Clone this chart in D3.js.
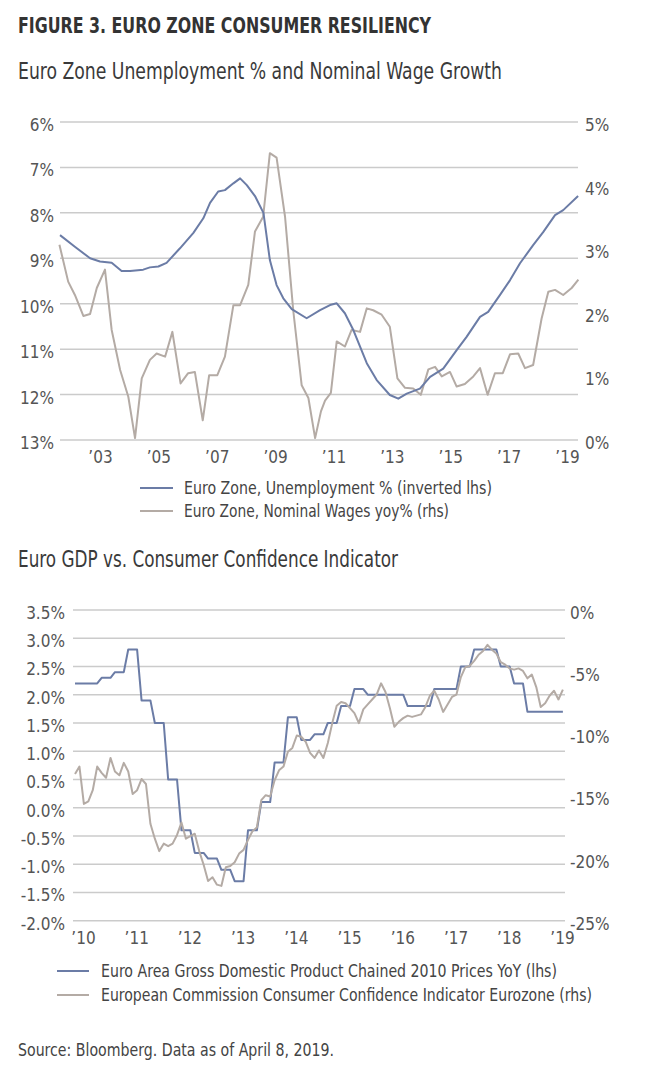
<!doctype html>
<html>
<head>
    <meta http-equiv="Content-type" content="text/html; charset=utf-8"/>
    <script src="https://cdn.jsdelivr.net/npm/d3@7"></script>
    <style>
        body { margin: 0; background: #fff; }
        svg text { font-family: "DejaVu Sans Condensed", "Liberation Sans Narrow", sans-serif; }
        .tick text { fill: #555; font-size: 17px; }
        .grid line { stroke: #cbcbcb; stroke-width: 1.5; }
    </style>
</head>
<body>
<svg width="647" height="1089"></svg>
<script>
    // ---- top chart data ----
    var unempYears = [2001.63, 2002.15, 2002.66, 2003.0, 2003.40, 2003.74, 2004.03, 2004.48, 2004.71, 2005.0, 2005.28,
        2005.74, 2006.2, 2006.54, 2006.77, 2007.05, 2007.28, 2007.57, 2007.8, 2008.03, 2008.31, 2008.6, 2008.82,
        2009.05, 2009.28, 2009.57, 2010.08, 2010.54, 2010.88, 2011.11, 2011.39, 2011.68, 2012.14, 2012.48, 2012.93,
        2013.22, 2013.51, 2013.96, 2014.31, 2014.76, 2015.22, 2015.56, 2016.02, 2016.3, 2016.7, 2017.05, 2017.39,
        2017.84, 2018.19, 2018.59, 2018.87, 2019.38];
    var unempValues = [8.49, 8.75, 9.0, 9.07, 9.1, 9.28, 9.28, 9.25, 9.2, 9.18, 9.1,
        8.78, 8.44, 8.12, 7.78, 7.53, 7.5, 7.35, 7.24, 7.39, 7.63, 8.0, 9.04,
        9.59, 9.88, 10.12, 10.32, 10.14, 10.03, 9.99, 10.21, 10.58, 11.31, 11.68, 12.01,
        12.09, 11.98, 11.87, 11.61, 11.43, 11.02, 10.73, 10.29, 10.18, 9.81, 9.48, 9.11,
        8.71, 8.42, 8.05, 7.94, 7.63];

    var wageYears = [2001.61, 2001.91, 2002.14, 2002.43, 2002.66, 2002.89, 2003.17, 2003.40, 2003.69, 2003.97,
        2004.20, 2004.43, 2004.71, 2004.94, 2005.23, 2005.48, 2005.76, 2006.02, 2006.25, 2006.52, 2006.74,
        2007.02, 2007.28, 2007.57, 2007.80, 2008.08, 2008.31, 2008.59, 2008.82, 2009.05, 2009.34, 2009.62,
        2009.91, 2010.14, 2010.37, 2010.57, 2010.71, 2010.91, 2011.11, 2011.39, 2011.62, 2011.91, 2012.14,
        2012.36, 2012.65, 2012.93, 2013.19, 2013.45, 2013.73, 2013.99, 2014.25, 2014.48, 2014.71, 2014.99,
        2015.22, 2015.50, 2015.79, 2016.02, 2016.28, 2016.53, 2016.80, 2017.05, 2017.33, 2017.56, 2017.84,
        2018.13, 2018.36, 2018.59, 2018.87, 2019.16, 2019.39];
    var wageValues = [3.07, 2.49, 2.28, 1.95, 1.98, 2.39, 2.68, 1.73, 1.1, 0.68,
        0.03, 0.97, 1.26, 1.36, 1.31, 1.70, 0.89, 1.05, 1.07, 0.31, 1.02,
        1.02, 1.31, 2.12, 2.12, 2.44, 3.28, 3.51, 4.51, 4.44, 3.51, 2.04,
        0.86, 0.66, 0.03, 0.45, 0.62, 0.74, 1.55, 1.47, 1.73, 1.70, 2.07,
        2.04, 1.97, 1.78, 0.97, 0.82, 0.81, 0.71, 1.11, 1.15, 1.0, 1.07,
        0.84, 0.88, 1.0, 1.13, 0.71, 1.05, 1.05, 1.35, 1.36, 1.13, 1.18,
        1.91, 2.33, 2.36, 2.28, 2.39, 2.52];

    var topYearTicks = [2003, 2005, 2007, 2009, 2011, 2013, 2015, 2017, 2019];
    var unempTicks = [6, 7, 8, 9, 10, 11, 12, 13];
    var wageTicks = [0, 1, 2, 3, 4, 5];

    // ---- bottom chart data ----
    // GDP yoy %, one value per quarter (held for 3 months), from Q4 2009
    var gdpQuarterly = [2.2, 2.2, 2.3, 2.4, 2.8, 1.9, 1.5, 0.5, -0.4, -0.8, -0.9, -1.1, -1.3, -0.4, 0.1, 0.8,
        1.6, 1.2, 1.3, 1.5, 1.8, 2.1, 2.0, 2.0, 2.0, 1.8, 1.8, 2.1, 2.1, 2.5, 2.8, 2.8, 2.5, 2.2, 1.7, 1.7, 1.7];
    // consumer confidence, monthly, from Nov 2009
    var confMonthly = [-13.2, -12.6, -15.6, -15.4, -14.5, -12.6, -13.1, -13.5, -11.9, -13.0, -13.3, -12.3,
        -13.0, -14.8, -14.5, -13.6, -14.0, -17.2, -18.4, -19.4, -18.8, -19.0, -18.8, -18.1,
        -17.1, -18.4, -18.2, -18.0, -19.4, -20.5, -21.8, -21.5, -22.1, -22.2, -20.7, -20.6,
        -20.3, -19.6, -19.3, -18.5, -17.8, -17.5, -15.3, -14.9, -15.0, -13.7, -12.9, -12.6,
        -11.4, -11.1, -10.1, -10.2, -10.6, -11.5, -11.9, -11.3, -11.9, -10.7, -9.1, -7.7,
        -7.4, -7.5, -7.9, -8.3, -9.1, -8.0, -7.6, -7.2, -6.8, -5.9, -6.6, -7.9,
        -9.4, -9.0, -8.7, -8.5, -8.6, -8.5, -8.4, -7.8, -6.9, -6.5, -7.2, -8.2,
        -7.6, -7.0, -6.8, -5.4, -4.6, -4.5, -4.1, -3.6, -3.3, -2.8, -3.2, -3.5,
        -4.2, -4.4, -4.7, -4.8, -4.7, -4.9, -5.5, -5.2, -6.2, -7.8, -7.5, -6.9,
        -6.5, -7.2, -6.4];
    var monthStart = 2009.85;

    var botYearTicks = [2010, 2011, 2012, 2013, 2014, 2015, 2016, 2017, 2018, 2019];
    var gdpTicks = [-2.0, -1.5, -1.0, -0.5, 0.0, 0.5, 1.0, 1.5, 2.0, 2.5, 3.0, 3.5];
    var confTicks = [-25, -20, -15, -10, -5, 0];

    var blue = "#6b7ca6", grey = "#b4aba5";

    var svg = d3.select("svg");

    function yearLabel(d) { return "\u2019" + String(d).slice(2); }

    // squeeze a label to the width it takes in the original (condensed face)
    function fit(sel, w) {
        sel.attr("textLength", w).attr("lengthAdjust", "spacingAndGlyphs");
    }

    // ---- headings ----
    svg.append("text").attr("x", 18).attr("y", 33)
        .style("font-size", "21px").style("font-weight", "bold").style("fill", "#333")
        .text("FIGURE 3. EURO ZONE CONSUMER RESILIENCY").call(fit, 413);
    svg.append("text").attr("x", 18).attr("y", 79)
        .style("font-size", "23px").style("fill", "#3a3a3a")
        .text("Euro Zone Unemployment % and Nominal Wage Growth").call(fit, 484);

    // ---- top chart ----
    var xTop = d3.scaleLinear().domain([2003, 2019]).range([100, 567]);
    var yUnemp = d3.scaleLinear().domain([6, 13]).range([122, 440]);
    var yWage = d3.scaleLinear().domain([0, 5]).range([440, 122]);

    svg.append("g").attr("class", "grid")
        .selectAll("line").data(unempTicks).enter().append("line")
        .attr("x1", 60).attr("x2", 578)
        .attr("y1", function(d) { return yUnemp(d); })
        .attr("y2", function(d) { return yUnemp(d); });

    var axL = svg.append("g").attr("transform", "translate(60,0)")
        .call(d3.axisLeft(yUnemp).tickValues(unempTicks).tickSize(0).tickPadding(6)
            .tickFormat(function(d) { return d + "%"; }));
    var axR = svg.append("g").attr("transform", "translate(578,0)")
        .call(d3.axisRight(yWage).tickValues(wageTicks).tickSize(0).tickPadding(7)
            .tickFormat(function(d) { return d + "%"; }));
    var axB = svg.append("g").attr("transform", "translate(0,440)")
        .call(d3.axisBottom(xTop).tickValues(topYearTicks).tickSize(0).tickPadding(11)
            .tickFormat(yearLabel));
    [axL, axR, axB].forEach(function(a) { a.select(".domain").remove(); });
    axL.selectAll("text").attr("dy", "0.5em");
    axR.selectAll("text").attr("dy", "0.5em");

    var wagePts = wageYears.map(function(d, i) { return [d, wageValues[i]]; });
    var unempPts = unempYears.map(function(d, i) { return [d, unempValues[i]]; });

    svg.append("path").datum(wagePts)
        .attr("fill", "none").attr("stroke", grey).attr("stroke-width", 2).attr("stroke-linejoin", "round")
        .attr("d", d3.line().x(function(d) { return xTop(d[0]); }).y(function(d) { return yWage(d[1]); }));
    svg.append("path").datum(unempPts)
        .attr("fill", "none").attr("stroke", blue).attr("stroke-width", 2).attr("stroke-linejoin", "round")
        .attr("d", d3.line().x(function(d) { return xTop(d[0]); }).y(function(d) { return yUnemp(d[1]); }));

    // top legend
    var topLegend = [["Euro Zone, Unemployment % (inverted lhs)", blue, 308], ["Euro Zone, Nominal Wages yoy% (rhs)", grey, 265]];
    var tl = svg.append("g").selectAll("g").data(topLegend).enter().append("g")
        .attr("transform", function(d, i) { return "translate(140," + (488 + i * 23) + ")"; });
    tl.append("line").attr("x1", 0).attr("x2", 33).attr("stroke", function(d) { return d[1]; }).attr("stroke-width", 2);
    tl.append("text").attr("x", 44).attr("dy", "0.36em").style("font-size", "18px").style("fill", "#444")
        .attr("textLength", function(d) { return d[2]; }).attr("lengthAdjust", "spacingAndGlyphs")
        .text(function(d) { return d[0]; });

    // ---- bottom chart ----
    svg.append("text").attr("x", 18).attr("y", 567)
        .style("font-size", "23px").style("fill", "#3a3a3a")
        .text("Euro GDP vs. Consumer Confidence Indicator").call(fit, 380);

    var xBot = d3.scaleLinear().domain([2010, 2019]).range([83, 562]);
    var yGdp = d3.scaleLinear().domain([-2, 3.5]).range([920.7, 610]);
    var yConf = d3.scaleLinear().domain([-25, 0]).range([920.7, 610]);

    svg.append("g").attr("class", "grid")
        .selectAll("line").data(gdpTicks).enter().append("line")
        .attr("x1", 73).attr("x2", 565)
        .attr("y1", function(d) { return yGdp(d); })
        .attr("y2", function(d) { return yGdp(d); });

    var bL = svg.append("g").attr("transform", "translate(73,0)")
        .call(d3.axisLeft(yGdp).tickValues(gdpTicks).tickSize(0).tickPadding(8)
            .tickFormat(function(d) { return d.toFixed(1) + "%"; }));
    var bR = svg.append("g").attr("transform", "translate(565,0)")
        .call(d3.axisRight(yConf).tickValues(confTicks).tickSize(0).tickPadding(5)
            .tickFormat(function(d) { return d + "%"; }));
    var bB = svg.append("g").attr("transform", "translate(0,920.7)")
        .call(d3.axisBottom(xBot).tickValues(botYearTicks).tickSize(0).tickPadding(11)
            .tickFormat(yearLabel));
    [bL, bR, bB].forEach(function(a) { a.select(".domain").remove(); });
    bL.selectAll("text").attr("dy", "0.5em");
    bR.selectAll("text").attr("dy", "0.5em");

    var gdpPts = [];
    gdpQuarterly.forEach(function(v, q) {
        for (var m = 0; m < 3; m++) gdpPts.push([monthStart + (q * 3 + m) / 12, v]);
    });
    var confPts = confMonthly.map(function(v, i) { return [monthStart + i / 12, v]; });

    svg.append("path").datum(gdpPts)
        .attr("fill", "none").attr("stroke", blue).attr("stroke-width", 2).attr("stroke-linejoin", "round")
        .attr("d", d3.line().x(function(d) { return xBot(d[0]); }).y(function(d) { return yGdp(d[1]); }));
    svg.append("path").datum(confPts)
        .attr("fill", "none").attr("stroke", grey).attr("stroke-width", 2).attr("stroke-linejoin", "round")
        .attr("d", d3.line().x(function(d) { return xBot(d[0]); }).y(function(d) { return yConf(d[1]); }));

    var botLegend = [["Euro Area Gross Domestic Product Chained 2010 Prices YoY (lhs)", blue, 456],
        ["European Commission Consumer Confidence Indicator Eurozone (rhs)", grey, 491]];
    var bl = svg.append("g").selectAll("g").data(botLegend).enter().append("g")
        .attr("transform", function(d, i) { return "translate(57," + (971 + i * 24) + ")"; });
    bl.append("line").attr("x1", 0).attr("x2", 32).attr("stroke", function(d) { return d[1]; }).attr("stroke-width", 2);
    bl.append("text").attr("x", 44).attr("dy", "0.36em").style("font-size", "17px").style("fill", "#444")
        .attr("textLength", function(d) { return d[2]; }).attr("lengthAdjust", "spacingAndGlyphs")
        .text(function(d) { return d[0]; });

    svg.append("text").attr("x", 18).attr("y", 1056)
        .style("font-size", "17px").style("fill", "#444")
        .text("Source: Bloomberg. Data as of April 8, 2019.").call(fit, 316);
</script>
</body>
</html>
